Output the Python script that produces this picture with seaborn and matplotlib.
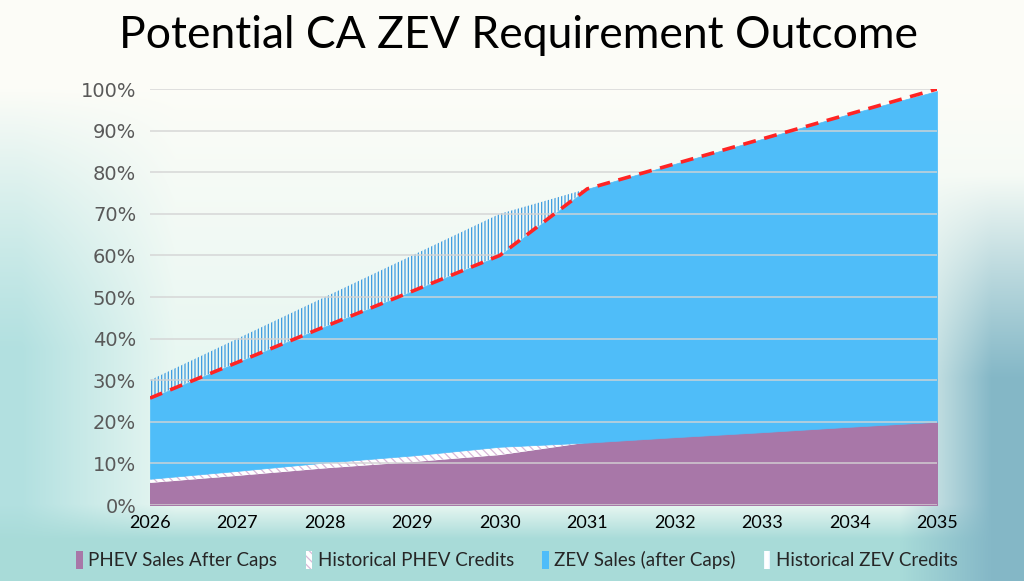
import numpy as np
import pandas as pd
import seaborn as sns
import matplotlib
matplotlib.use('Agg')
import matplotlib.pyplot as plt
from matplotlib.patches import Patch
from matplotlib.ticker import FuncFormatter, MultipleLocator

sns.set_theme(style="whitegrid")
plt.rcParams['font.family'] = ['Lato', 'DejaVu Sans']
plt.rcParams['hatch.linewidth'] = 0.9

# data (percent of sales)
years = [2026, 2027, 2028, 2029, 2030, 2031, 2032, 2033, 2034, 2035]
phev_sales = [5.3, 7.0, 8.8, 10.3, 12.0, 15.0, 16.3, 17.5, 18.8, 20.0]
hist_phev = [1.0, 1.2, 1.4, 1.6, 2.0, 0, 0, 0, 0, 0]
zev_sales = [19.4, 26.1, 32.7, 39.5, 46.0, 61.0, 65.7, 70.5, 75.2, 79.5]
hist_zev = [4.3, 5.7, 7.1, 8.6, 10.0, 0, 0, 0, 0, 0]
requirement = [25.7, 34.3, 42.9, 51.4, 60.0, 76.0, 82.0, 88.0, 94.0, 100.0]
labels = ['PHEV Sales After Caps', 'Historical PHEV Credits',
          'ZEV Sales (after Caps)', 'Historical ZEV Credits']

purple = '#a877a8'
blue = '#4fbdf9'

fig = plt.figure(figsize=(10.24, 5.81), dpi=100)

# background wash (slide backdrop)
bg = fig.add_axes([0, 0, 1, 1], zorder=-10)
X, Y = np.meshgrid(np.linspace(0, 1, 300), np.linspace(0, 1, 170))
img = np.ones((170, 300, 3)) * np.array([0.99, 0.99, 0.97])
def mix(a, col, w):
    return a * (1 - w[..., None]) + np.array(col) * w[..., None]
w_top = np.clip((Y - 0.15) / 0.45, 0, 1)
img = mix(img, [0.88, 0.96, 0.94], 0.7 * w_top)
img = mix(img, [0.70, 0.88, 0.88], np.clip((0.17 - X) / 0.15, 0, 1) * w_top)
img = mix(img, [0.66, 0.86, 0.85], np.clip((Y - 0.87) / 0.06, 0, 1))
img = mix(img, [0.52, 0.72, 0.78],
          np.clip((X - 0.88) / 0.09, 0, 1) * np.clip((Y - 0.3) / 0.35, 0, 1))
bg.imshow(img, aspect='auto', extent=[0, 1, 0, 1], interpolation='bilinear')
bg.axis('off')

ax = fig.add_axes([0.1465, 0.1308, 0.7686, 0.716])
ax.set_facecolor('none')

polys = ax.stackplot(years, phev_sales, hist_phev, zev_sales, hist_zev,
                     colors=[purple, 'white', blue, 'none'], zorder=1)
polys[0].set_edgecolor(purple)
polys[1].set_edgecolor('#d8b8d8')
polys[1].set_hatch('\\\\\\\\')
polys[1].set_linewidth(0)
polys[2].set_edgecolor(blue)
polys[2].set_linewidth(0.5)
polys[3].set_facecolor('none')
polys[3].set_edgecolor('#3d9be0')
polys[3].set_hatch('|||||')
polys[3].set_linewidth(0)

req_df = pd.DataFrame({'year': years, 'req': requirement})
sns.lineplot(data=req_df, x='year', y='req', ax=ax, color='#ff2424',
             linewidth=2.6, zorder=4)
ax.lines[-1].set_dashes((3.6, 2.4))

ax.set_xlim(2026, 2035)
ax.set_ylim(0, 100)
ax.yaxis.set_major_locator(MultipleLocator(10))
ax.yaxis.set_major_formatter(FuncFormatter(lambda v, p: f'{v:.0f}%'))
ax.set_xticks(years)
ax.grid(axis='x', visible=False)
ax.grid(axis='y', color='#d4d4d4', linewidth=1.2, alpha=0.85, zorder=3)
ax.set_axisbelow(False)
for s in ax.spines.values():
    s.set_visible(False)
ax.tick_params(axis='y', labelsize=14, labelcolor='#595959', pad=10, length=0)
ax.tick_params(axis='x', labelsize=13, labelcolor='black', pad=7, length=0)
for t in ax.get_yticklabels():
    t.set_family('DejaVu Sans')
ax.set_xlabel('')
ax.set_ylabel('')

fig.suptitle('Potential CA ZEV Requirement Outcome', fontsize=32,
             x=0.506, y=0.975, color='black')

handles = [Patch(facecolor=purple, edgecolor='none'),
           Patch(facecolor='white', edgecolor='#d8b8d8', hatch='\\\\\\\\', linewidth=0),
           Patch(facecolor=blue, edgecolor='none'),
           Patch(facecolor='white', edgecolor='#e8f4ff', hatch='|||', linewidth=0)]
fig.legend(handles, labels, loc='center', bbox_to_anchor=(0.505, 0.036), ncol=4,
           frameon=False, fontsize=13.5, handlelength=0.35, handleheight=1.1,
           handletextpad=0.3, columnspacing=1.5)

fig.savefig('out.png', dpi=100)
